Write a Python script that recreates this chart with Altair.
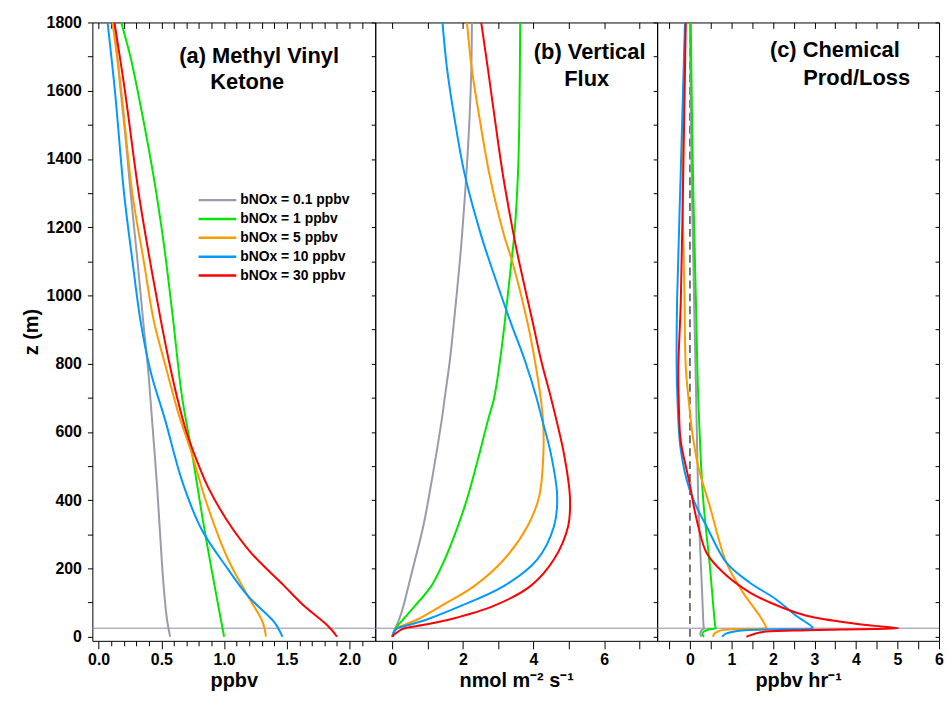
import altair as alt
import pandas as pd

FONT = "Liberation Sans"

series = ["bNOx = 0.1 ppbv", "bNOx = 1 ppbv", "bNOx = 5 ppbv", "bNOx = 10 ppbv", "bNOx = 30 ppbv"]
colors = ["#9a9aad", "#00e600", "#ff9900", "#0099ff", "#ff0000"]

# ---------------- (a) Methyl Vinyl Ketone (ppbv) ----------------
a_gray_z = [0, 50, 149, 300, 440, 634, 779, 925, 1100, 1300, 1468, 1600, 1800]
a_gray_v = [0.57, 0.545, 0.518, 0.49, 0.466, 0.426, 0.395, 0.355, 0.31, 0.255, 0.213, 0.175, 0.125]
a_green_z = [0, 188, 343, 537, 702, 934, 1150, 1351, 1564, 1700, 1800]
a_green_v = [1.0, 0.905, 0.83, 0.745, 0.665, 0.592, 0.52, 0.437, 0.33, 0.253, 0.18]
a_orange_z = [0, 43, 120, 227, 392, 537, 653, 779, 925, 1100, 1300, 1600, 1800]
a_orange_v = [1.334, 1.307, 1.189, 1.031, 0.86, 0.742, 0.637, 0.544, 0.44, 0.36, 0.268, 0.18, 0.11]
a_blue_z = [0, 19, 43, 120, 198, 314, 459, 634, 779, 925, 1100, 1298, 1598, 1800]
a_blue_v = [1.465, 1.44, 1.40, 1.189, 1.031, 0.821, 0.663, 0.531, 0.413, 0.334, 0.27, 0.203, 0.13, 0.071]
a_red_z = [0, 19, 43, 91, 149, 246, 343, 440, 500, 600, 702, 800, 925, 1100, 1298, 1598, 1800]
a_red_v = [1.90, 1.86, 1.794, 1.637, 1.479, 1.215, 1.02, 0.87, 0.80, 0.70, 0.625, 0.565, 0.497, 0.41, 0.32, 0.21, 0.126]

# ---------------- (b) Vertical Flux (nmol m-2 s-1) ----------------
b_gray_z = [0, 23, 52, 91, 149, 227, 324, 411, 537, 634, 702, 808, 925, 1095, 1182, 1356, 1521, 1666, 1800]
b_gray_v = [0.0, 0.08, 0.20, 0.32, 0.46, 0.65, 0.88, 1.04, 1.25, 1.40, 1.49, 1.63, 1.75, 1.91, 1.98, 2.10, 2.19, 2.24, 2.257]
b_green_z = [0, 23, 52, 91, 149, 227, 324, 411, 537, 634, 702, 808, 925, 1095, 1182, 1356, 1521, 1666, 1800]
b_green_v = [0.0, 0.08, 0.32, 0.65, 1.11, 1.49, 1.86, 2.14, 2.47, 2.71, 2.89, 3.05, 3.19, 3.37, 3.46, 3.56, 3.60, 3.614, 3.623]
b_orange_z = [0, 23, 35, 52, 91, 149, 227, 324, 411, 537, 634, 702, 808, 925, 1095, 1182, 1356, 1521, 1666, 1800]
b_orange_v = [0.0, 0.1, 0.35, 0.74, 1.40, 2.33, 3.17, 3.83, 4.16, 4.28, 4.27, 4.20, 4.04, 3.82, 3.41, 3.15, 2.75, 2.47, 2.25, 2.116]
b_blue_z = [0, 23, 35, 52, 91, 149, 227, 324, 411, 537, 634, 702, 808, 925, 1095, 1182, 1356, 1521, 1666, 1800]
b_blue_v = [0.0, 0.12, 0.5, 1.02, 1.96, 3.17, 4.11, 4.58, 4.67, 4.49, 4.25, 4.08, 3.76, 3.34, 2.77, 2.50, 2.05, 1.76, 1.55, 1.423]
b_red_z = [0, 10, 23, 35, 52, 91, 149, 227, 324, 411, 537, 634, 702, 808, 925, 1095, 1182, 1356, 1521, 1666, 1800]
b_red_v = [0.0, 0.1, 0.3, 0.9, 1.68, 2.89, 3.92, 4.58, 4.98, 5.03, 4.86, 4.65, 4.49, 4.22, 3.97, 3.60, 3.43, 3.13, 2.90, 2.706, 2.519]

# ---------------- (c) Chemical Prod/Loss (ppbv hr-1) ----------------
c_gray_z = [0, 8, 15, 21, 25, 30, 110, 250, 401, 700, 983, 1369, 1800]
c_gray_v = [0.28, 0.25, 0.26, 0.30, 0.34, 0.33, 0.30, 0.25, 0.20, 0.15, 0.10, 0.04, 0.0]
c_green_z = [0, 8, 15, 21, 25, 30, 208, 401, 700, 983, 1369, 1800]
c_green_v = [0.34, 0.30, 0.33, 0.45, 0.62, 0.61, 0.479, 0.32, 0.20, 0.144, 0.07, 0.02]
c_orange_z = [0, 10, 18, 21, 23, 25, 28, 62, 130, 217, 382, 498, 595, 692, 789, 983, 1369, 1800]
c_orange_v = [0.55, 0.60, 0.72, 0.90, 1.30, 1.82, 1.834, 1.675, 1.276, 0.878, 0.479, 0.20, 0.06, -0.03, -0.10, -0.13, -0.18, -0.11]
c_blue_z = [0, 8, 14, 19, 22, 25, 28, 62, 110, 159, 217, 324, 380, 428, 480, 556, 595, 692, 789, 983, 1369, 1800]
c_blue_v = [0.775, 0.85, 1.01, 1.33, 2.2, 2.95, 2.95, 2.55, 2.07, 1.436, 0.878, 0.399, 0.16, 0.0, -0.12, -0.23, -0.26, -0.30, -0.32, -0.31, -0.22, -0.12]
c_red_z = [0, 4, 10, 14, 18, 21, 23, 25, 30, 38, 62, 101, 130, 188, 246, 324, 390, 445, 500, 556, 595, 692, 789, 983, 1369, 1800]
c_red_v = [1.36, 1.45, 1.6, 1.75, 2.5, 3.6, 4.5, 5.02, 4.6, 3.99, 2.79, 1.914, 1.436, 0.80, 0.399, 0.20, 0.08, 0.0, -0.1, -0.2, -0.24, -0.27, -0.28, -0.22, -0.16, -0.10]

z_ticks = list(range(0, 1801, 100))
a_ticks = [round(i * 0.1, 1) for i in range(0, 22)]
b_ticks = list(range(0, 8))
c_ticks = [round(-0.5 + i * 0.5, 1) for i in range(0, 14)]


def frame(pairs):
    rows = []
    for name, zs, vs in pairs:
        for k, (z, v) in enumerate(zip(zs, vs)):
            rows.append({"series": name, "z": z, "v": v, "k": k})
    return pd.DataFrame(rows)


df_a = frame([(series[0], a_gray_z, a_gray_v), (series[1], a_green_z, a_green_v),
              (series[2], a_orange_z, a_orange_v), (series[3], a_blue_z, a_blue_v),
              (series[4], a_red_z, a_red_v)])
df_b = frame([(series[0], b_gray_z, b_gray_v), (series[1], b_green_z, b_green_v),
              (series[2], b_orange_z, b_orange_v), (series[3], b_blue_z, b_blue_v),
              (series[4], b_red_z, b_red_v)])
df_c = frame([(series[0], c_gray_z, c_gray_v), (series[1], c_green_z, c_green_v),
              (series[2], c_orange_z, c_orange_v), (series[3], c_blue_z, c_blue_v),
              (series[4], c_red_z, c_red_v)])
one = pd.DataFrame({"n": [0]})

yscale = alt.Scale(domain=[-12, 1800], nice=False, zero=False)
HEIGHT = 623


def tick_size(test, major, minor):
    if test is None:
        return major
    return {"condition": {"test": test, "value": major}, "value": minor}


def panel(df, xdomain, xticks, major_test, tick_test, fmt, xtitle, width, title_lines,
          show_left, legend, extra=None):
    xscale = alt.Scale(domain=xdomain, nice=False, zero=False)
    if show_left:
        yaxis = alt.Axis(orient="left", values=z_ticks,
                         labelExpr="datum.value % 200 == 0 ? format(datum.value, 'd') : ''",
                         tickSize=5, labelPadding=6, title="z (m)", titlePadding=5,
                         domain=False, grid=False)
    else:
        yaxis = alt.Axis(orient="left", values=z_ticks, labels=False, tickSize=4,
                         title=None, domain=False, grid=False)
    xaxis = alt.Axis(orient="bottom", values=xticks,
                     labelExpr=f"({major_test}) ? format(datum.value, '{fmt}') : ''",
                     tickSize=tick_size(tick_test, 8, 5),
                     labelPadding=3, labelFlush=False, title=xtitle, titlePadding=3,
                     domain=False, grid=False)
    color = alt.Color("series:N", scale=alt.Scale(domain=series, range=colors),
                      legend=legend)
    lines = alt.Chart(df).mark_line(strokeWidth=2, clip=True, interpolate="catmull-rom").encode(
        x=alt.X("v:Q", scale=xscale, axis=xaxis),
        y=alt.Y("z:Q", scale=yscale, axis=yaxis),
        color=color,
        order=alt.Order("k:Q"),
    )
    # invisible copy of the lines that carries the inward-pointing top ticks
    top_ticks = alt.Chart(df).mark_line(opacity=0).encode(
        x=alt.X("v:Q", scale=xscale,
                axis=alt.Axis(orient="top", values=xticks, labels=False, tickSize=6,
                              offset=-6, minExtent=0, maxExtent=0, title=None,
                              domain=False, grid=False)),
        y=alt.Y("z:Q", scale=yscale, axis=yaxis),
        detail="series:N",
        order=alt.Order("k:Q"),
    )
    hline = alt.Chart(df).mark_rule(color="#8a8aad", strokeWidth=1).encode(
        y=alt.Y("zline:Q", scale=yscale, axis=yaxis)
    ).transform_aggregate(n="count()").transform_calculate(zline="25")
    layers = [hline]
    if extra is not None:
        layers.append(extra(xscale))
    layers += [lines, top_ticks]
    for text, cx, cy in title_lines:
        layers.append(alt.Chart(one).mark_text(font=FONT, fontWeight="bold", fontSize=22,
                                               align="center", baseline="middle",
                                               color="black", text=text).encode(
            x=alt.value(cx), y=alt.value(cy)))
    return alt.layer(*layers).resolve_axis(x="independent").properties(
        width=width, height=HEIGHT)


def zero_line(xscale):
    return alt.Chart(one).mark_rule(color="#555555", strokeWidth=1.6,
                                    strokeDash=[8, 5]).encode(
        x=alt.XDatum(0, scale=xscale, axis=None))


legend_a = alt.Legend(orient="none", legendX=119, legendY=172, title=None,
                      symbolType="M-3.8,0H3.8", symbolSize=100, symbolStrokeWidth=2.5,
                      labelFont=FONT, labelFontWeight="bold", labelFontSize=14,
                      labelColor="black", labelOffset=16, rowPadding=5, padding=0)

a_major = "abs(datum.value*2 - round(datum.value*2)) < 0.001"
pa = panel(df_a, [-0.05, 2.205], a_ticks, a_major, a_major, ".1f", "ppbv", 285,
           [("(a) Methyl Vinyl", 168, 34), ("Ketone", 156, 60)], True, legend_a)
pb = panel(df_b, [-0.48, 7.5], b_ticks, "datum.value % 2 == 0", None, "d",
           "nmol m⁻² s⁻¹", 284,
           [("(b) Vertical", 216, 30), ("Flux", 213, 57)], False, None)
pc = panel(df_c, [-0.79, 6.0], c_ticks, "abs(datum.value - round(datum.value)) < 0.001", None, "d",
           "ppbv hr⁻¹", 284,
           [("(c) Chemical", 179, 28), ("Prod/Loss", 201, 56)], False, None, extra=zero_line)

# thin strip right of panel (c): its left-axis ticks point back into panel (c)
right_strip = alt.Chart(one).mark_point(opacity=0).encode(
    y=alt.Y("n:Q", scale=yscale,
            axis=alt.Axis(orient="left", values=z_ticks, labels=False, tickSize=4,
                          title=None, domain=False, grid=False))
).properties(width=1, height=HEIGHT, view=alt.ViewBackground(stroke="transparent"))

chart = alt.hconcat(pa, pb, pc, right_strip, spacing=0, bounds="flush").resolve_scale(
    color="independent").properties(
    padding={"left": 12, "top": 3, "right": 0, "bottom": 0}
).configure_view(stroke="black", strokeWidth=1).configure_axis(
    labelFont=FONT, labelFontWeight="bold", labelFontSize=16, labelColor="black",
    titleFont=FONT, titleFontWeight="bold", titleFontSize=20, titleColor="black",
    tickColor="black", tickWidth=1
)

chart.save("out.html", embed_options={"renderer": "svg", "actions": False})
